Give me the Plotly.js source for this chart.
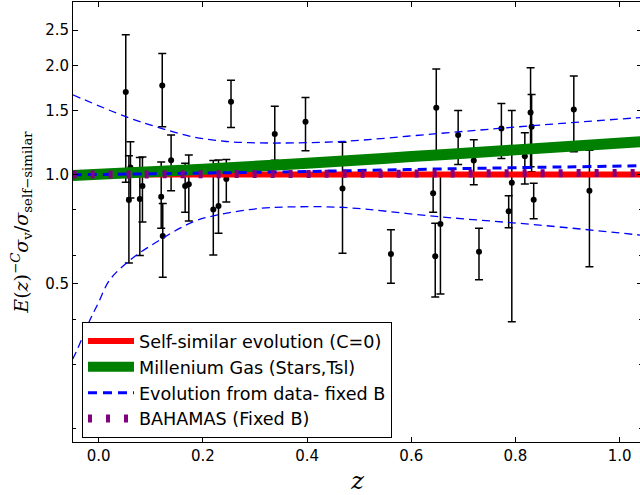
<!DOCTYPE html>
<html>
<head>
<meta charset="utf-8">
<script src="https://cdn.plot.ly/plotly-3.0.1.min.js"></script>
<style>
html, body { margin: 0; padding: 0; background: #fff; overflow: hidden; }
#chart { width: 643px; height: 495px; }
</style>
</head>
<body>
<div id="chart"></div>
<script>
// ---- cluster measurements ----
const clusterZ = [0.052, 0.058, 0.061, 0.079, 0.084, 0.120, 0.123, 0.122, 0.139, 0.166, 0.173, 0.220, 0.230, 0.245, 0.254,
  0.338, 0.397, 0.468, 0.561, 0.642, 0.646, 0.648, 0.656, 0.690, 0.720, 0.730, 0.773, 0.787, 0.793, 0.818, 0.829, 0.831, 0.835, 0.912, 0.942];
const clusterRatio = [1.69, 0.851, 1.047, 0.856, 0.931, 0.869, 0.677, 1.759, 1.096, 0.931, 0.940, 0.802, 0.820, 0.972, 1.587,
  1.293, 1.398, 0.916, 0.604, 0.888, 0.596, 1.528, 0.731, 1.285, 1.094, 0.613, 1.339, 0.793, 0.949, 1.124, 1.483, 1.354, 0.852, 1.512, 0.902];
const clusterHigh = [2.43, 1.127, 1.231, 1.115, 1.119, 1.083, 0.833, 2.157, 1.285, 1.074, 1.132, 1.093, 1.098, 1.101, 1.821,
  1.544, 1.632, 1.227, 0.705, 0.991, 0.735, 1.953, 1.010, 1.503, 1.247, 0.712, 1.571, 0.874, 1.503, 1.304, 1.969, 1.663, 0.946, 1.871, 1.168];
const clusterLow = [0.952, 0.571, 0.862, 0.599, 0.740, 0.712, 0.521, 1.354, 0.902, 0.787, 0.745, 0.600, 0.689, 0.841, 1.349,
  1.096, 1.163, 0.607, 0.502, 0.787, 0.460, 1.153, 0.469, 1.067, 0.937, 0.513, 1.108, 0.714, 0.393, 0.942, 1.051, 1.018, 0.756, 1.156, 0.557];

// ---- model curves ----
const selfSimZ = [-0.05, 1.05];
const selfSimV = [1.0, 1.0];
const millZ = [-0.05, 0.2, 0.4, 0.6, 0.8, 1.05];
const millV = [0.995, 1.035, 1.075, 1.121, 1.170, 1.235];
const evoZ = [-0.05, 0.2, 0.4, 0.6, 0.8, 1.05];
const evoMid = [0.999, 1.010, 1.020, 1.033, 1.045, 1.058];
const evoUpperZ = [-0.05, 0.053, 0.117, 0.181, 0.245, 0.309, 0.373, 0.468, 0.655, 0.846, 1.05];
const evoUpperV = [1.66, 1.443, 1.346, 1.271, 1.234, 1.223, 1.223, 1.234, 1.299, 1.369, 1.44];
const evoLowerZ = [-0.05, -0.043, -0.017, -0.001, 0.021, 0.060, 0.117, 0.181, 0.226, 0.309, 0.373, 0.469, 0.655, 0.846, 1.05];
const evoLowerV = [0.31, 0.325, 0.397, 0.442, 0.512, 0.581, 0.660, 0.741, 0.773, 0.807, 0.815, 0.812, 0.765, 0.726, 0.679];
const bahamasZ = [-0.05, 1.05];
const bahamasV = [1.0, 1.011];

const legendNames = ['Self-similar evolution (C=0)', 'Millenium Gas (Stars,Tsl)', 'Evolution from data- fixed B', 'BAHAMAS (Fixed B)'];
const yTickVals = [0.5, 1.0, 1.5, 2.0, 2.5];
const yTickText = ['0.5', '1.0', '1.5', '2.0', '2.5'];
const yMinorVals = [0.2, 0.3, 0.4, 0.6, 0.8];
const xTickVals = [0.0, 0.2, 0.4, 0.6, 0.8, 1.0];
const xTickText = ['0.0', '0.2', '0.4', '0.6', '0.8', '1.0'];

const errPlus = clusterHigh.map((h, i) => h - clusterRatio[i]);
const errMinus = clusterLow.map((l, i) => clusterRatio[i] - l);

const traces = [
  {
    x: clusterZ, y: clusterRatio, type: 'scatter', mode: 'markers', showlegend: false,
    marker: {color: 'black', size: 6},
    error_y: {type: 'data', symmetric: false, array: errPlus, arrayminus: errMinus,
      color: 'black', thickness: 1.5, width: 4}
  },
  {x: selfSimZ, y: selfSimV, type: 'scatter', mode: 'lines', name: legendNames[0],
    legendrank: 1001, legendgroup: 'g1',
    line: {color: '#ff0000', width: 6}},
  {x: millZ, y: millV, type: 'scatter', mode: 'lines', name: legendNames[1],
    legendrank: 1002, legendgroup: 'g2',
    line: {color: '#008000', width: 11, shape: 'spline'}},
  {x: evoZ, y: evoMid, type: 'scatter', mode: 'lines', name: legendNames[2],
    legendrank: 1003, legendgroup: 'g3',
    line: {color: '#0000ff', width: 3, dash: '9px,6px', shape: 'spline'}},
  {x: evoUpperZ, y: evoUpperV, type: 'scatter', mode: 'lines', showlegend: false, legendgroup: 'g3',
    line: {color: '#0000ff', width: 1.3, dash: '8px,5px', shape: 'spline'}},
  {x: evoLowerZ, y: evoLowerV, type: 'scatter', mode: 'lines', showlegend: false, legendgroup: 'g3',
    line: {color: '#0000ff', width: 1.3, dash: '8px,5px', shape: 'spline'}},
  {x: bahamasZ, y: bahamasV, type: 'scatter', mode: 'lines', name: legendNames[3],
    legendrank: 1004, legendgroup: 'g4',
    line: {color: '#800080', width: 8, dash: '4px,14px'}}
];

const layout = {
  width: 643, height: 495,
  margin: {l: 73, r: 1, t: 2, b: 53},
  paper_bgcolor: '#fff', plot_bgcolor: '#fff',
  font: {family: 'DejaVu Sans', size: 15, color: '#000'},
  showlegend: true,
  legend: {
    x: 0.0158, y: 0.2727, xanchor: 'left', yanchor: 'top',
    bgcolor: '#fff', bordercolor: '#000', borderwidth: 1,
    font: {family: 'DejaVu Sans', size: 17.6, color: '#000'},
    itemwidth: 46, traceorder: 'normal', tracegroupgap: 2
  },
  xaxis: {
    range: [-0.0493, 1.0429], showgrid: false, zeroline: false,
    showline: true, linecolor: '#000', linewidth: 1, mirror: 'ticks',
    ticks: 'inside', ticklen: 5, tickcolor: '#000',
    tickmode: 'array', tickvals: xTickVals, ticktext: xTickText,
    tickfont: {family: 'DejaVu Sans', size: 15},
    title: {text: '<i>z</i>', font: {family: 'DejaVu Serif', size: 24}, standoff: 14}
  },
  yaxis: {
    type: 'log', range: [Math.log10(0.1833), Math.log10(2.99)],
    showgrid: false, zeroline: false,
    showline: true, linecolor: '#000', linewidth: 1, mirror: 'ticks',
    ticks: 'inside', ticklen: 5, tickcolor: '#000',
    tickmode: 'array', tickvals: yTickVals, ticktext: yTickText,
    minor: {tickmode: 'array', tickvals: yMinorVals, ticks: 'inside', ticklen: 3, tickcolor: '#000', showgrid: false},
    tickfont: {family: 'DejaVu Sans', size: 15},
    title: {text: '<i>E</i>(<i>z</i>)<sup>\u2212<i>C</i></sup><i>\u03c3</i><sub>v</sub>/<i>\u03c3</i><sub>self\u2212similar</sub>',
      font: {family: 'DejaVu Serif', size: 19}, standoff: 11}
  }
};

Plotly.newPlot('chart', traces, layout, {displayModeBar: false, staticPlot: true});
</script>
</body>
</html>
